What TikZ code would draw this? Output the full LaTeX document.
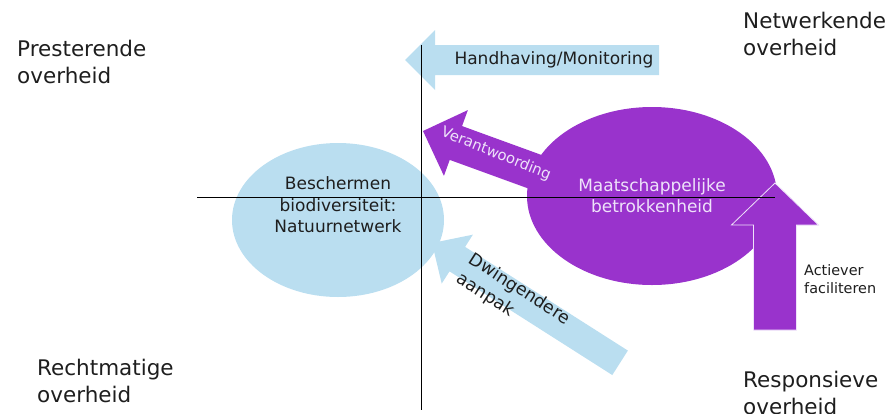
\documentclass[tikz,border=0pt]{standalone}
\usepackage{fontspec}
\setmainfont{DejaVu Sans}
\usetikzlibrary{shapes.geometric}
\definecolor{lichtblauw}{RGB}{186,222,240}
\definecolor{paars}{RGB}{153,51,204}
\definecolor{lila}{RGB}{238,226,250}
\definecolor{tekst}{RGB}{30,30,30}
\newcommand{\dikkepijl}[7]{\path[#1,shift={#2},rotate=#3] (0,0)--(#7,#6)--(#7,#5)--(#4,#5)--(#4,-#5)--(#7,-#5)--(#7,-#6)--cycle;}

\begin{document}
\begin{tikzpicture}[x=1pt,y=-1pt,
  hoek/.style={anchor=north west,inner sep=0,align=left,text=tekst,font=\fontsize{21.5}{26.5}\selectfont},
  pijltekst/.style={inner sep=0,align=center,text=tekst,font=\fontsize{17}{21.5}\selectfont},
  blob/.style={ellipse,inner sep=0}]
\useasboundingbox (0,0) rectangle (889,413);
\node[blob,fill=lichtblauw,minimum width=212pt,minimum height=154pt] (natuur) at (338,220) {};
\dikkepijl{fill=lichtblauw}{(432,243)}{-32.5}{223}{14.5}{29}{30}
\dikkepijl{fill=lichtblauw}{(405,60)}{0}{254}{15}{30}{30}
\dikkepijl{fill=paars}{(423,131)}{-20}{160}{18}{35}{35}
\node[blob,fill=paars,minimum width=250pt,minimum height=178pt,text=lila,align=center,
  font=\fontsize{17}{21}\selectfont] (betrokken) at (652,196) {Maatschappelijke\\betrokkenheid};
\dikkepijl{fill=paars,draw=lila,line width=0.8pt}{(775,183)}{-90}{147}{21.5}{43.5}{42}
\coordinate (boven) at (421,45);
\coordinate (onder) at (421,410);
\coordinate (links) at (197,197);
\coordinate (rechts) at (775,197);
\draw[line width=0.8pt] (boven) -- (onder);
\draw[line width=0.8pt] (links) -- (rechts);
\node[pijltekst] (bescherm) at (338,205) {Beschermen\\biodiversiteit:\\Natuurnetwerk};
\node[pijltekst] (handhaving) at (554,60) {Handhaving/Monitoring};
\node[pijltekst,text=lila,font=\fontsize{14.8}{18}\selectfont,rotate=-22] (verantw) at (496,154) {Verantwoording};
\node[pijltekst,align=left,anchor=north west,rotate=-32.5,font=\fontsize{17.5}{23}\selectfont] (dwing) at (475,251) {Dwingendere\\aanpak};
\node[pijltekst,align=left,anchor=north west,font=\fontsize{14.4}{18}\selectfont] (actiever) at (804,264) {Actiever\\faciliteren};
\node[hoek] (presterend) at (17,40) {Presterende\\overheid};
\node[hoek] (netwerkend) at (743,12) {Netwerkende\\overheid};
\node[hoek] (rechtmatig) at (37,359) {Rechtmatige\\overheid};
\node[hoek] (responsief) at (743,371) {Responsieve\\overheid};
\end{tikzpicture}
\end{document}
